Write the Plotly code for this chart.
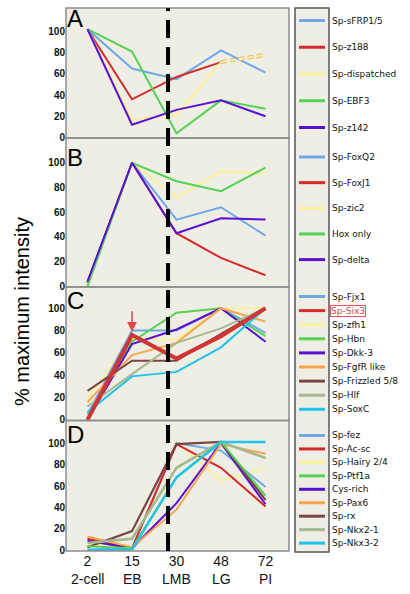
import plotly.graph_objects as go

# ---------------- data ----------------
hours = ["2", "15", "30", "48", "72"]
stages = ["2-cell", "EB", "LMB", "LG", "PI"]
y_ticks = [0, 20, 40, 60, 80, 100]

# Panel A
a_names = ["Sp-sFRP1/5", "Sp-z188", "Sp-dispatched", "Sp-EBF3", "Sp-z142"]
a_sfrp = [102, 65, 55, 82, 61]
a_z188 = [102, 36, 57, 71, None]
a_dispatched = [102, 17, 21, 71, 78]
a_ebf3 = [102, 81, 4, 35, 27]
a_z142 = [102, 12, 26, 35, 20]

# Panel B
b_names = ["Sp-FoxQ2", "Sp-FoxJ1", "Sp-zic2", "Hox only", "Sp-delta"]
b_foxq2 = [3, 100, 54, 64, 41]
b_foxj1 = [3, 100, 43, 23, 9]
b_zic2 = [2, 100, 72, 93, 91]
b_hox = [0, 100, 85, 77, 96]
b_delta = [4, 100, 43, 55, 54]

# Panel C
c_names = ["Sp-Fjx1", "Sp-Six3", "Sp-zfh1", "Sp-Hbn", "Sp-Dkk-3",
           "Sp-FgfR like", "Sp-Frizzled 5/8", "Sp-Hlf", "Sp-SoxC"]
c_fjx1 = [5, 80, 80, 100, 78]
c_six3 = [0, 76, 55, 75, 100]
c_zfh1 = [19, 73, 72, 100, 100]
c_hbn = [2, 70, 96, 100, 75]
c_dkk3 = [0, 68, 81, 100, 70]
c_fgfr = [16, 58, 69, 100, 88]
c_frizzled = [26, 53, 53, 77, 100]
c_hlf = [12, 41, 69, 82, 100]
c_soxc = [7, 39, 43, 65, 100]

# Panel D
d_names = ["Sp-fez", "Sp-Ac-sc", "Sp-Hairy 2/4", "Sp-Ptf1a", "Cys-rich",
           "Sp-Pax6", "Sp-rx", "Sp-Nkx2-1", "Sp-Nkx3-2"]
d_fez = [1, 2, 100, 93, 59]
d_acsc = [11, 2, 99, 77, 41]
d_hairy = [5, 2, 101, 65, 77]
d_ptf1a = [4, 2, 68, 101, 51]
d_cys = [9, 2, 44, 100, 43]
d_pax6 = [13, 3, 38, 99, 90]
d_rx = [3, 18, 99, 101, 47]
d_nkx21 = [7, 11, 77, 101, 86]
d_nkx32 = [0, 1, 68, 101, 101]

# ---------------- styling ----------------
BLUE = "#6fa8e8"
RED = "#d42a2a"
YELLOW = "#faf09a"
GREEN = "#55d155"
PURPLE = "#5a12d0"
ORANGE = "#f7a64d"
BROWN = "#7b4545"
GREYGREEN = "#a5b88f"
CYAN = "#1fc3ea"
BG = "#efeee5"
FONT = "Liberation Sans, Arial, sans-serif"

W, H = 410, 594
L, R, T, B = 66, 289, 8, 551  # plot area in pixels


def px(p):
    return (p - L) / (R - L)


def py(p):
    return (B - p) / (B - T)


fig = go.Figure()


def add(vals, color, yaxis, width=2.0, dash=None):
    fig.add_trace(go.Scatter(x=hours, y=vals, mode="lines",
                             line=dict(color=color, width=width, dash=dash),
                             xaxis="x", yaxis=yaxis, showlegend=False,
                             hoverinfo="skip"))


# Panel A
add(a_sfrp, BLUE, "y")
add(a_z188, RED, "y")
fig.add_trace(go.Scatter(x=hours[:4], y=a_dispatched[:4], mode="lines",
                         line=dict(color=YELLOW, width=2), xaxis="x", yaxis="y",
                         showlegend=False, hoverinfo="skip"))
fig.add_trace(go.Scatter(x=hours[3:], y=a_dispatched[3:], mode="lines",
                         line=dict(color="#e9b86a", width=4, dash="6px,3px"),
                         xaxis="x", yaxis="y", showlegend=False, hoverinfo="skip"))
fig.add_trace(go.Scatter(x=hours[3:], y=a_dispatched[3:], mode="lines",
                         line=dict(color="#fbefb0", width=2, dash="6px,3px"),
                         xaxis="x", yaxis="y", showlegend=False, hoverinfo="skip"))
add(a_ebf3, GREEN, "y")
add(a_z142, PURPLE, "y")

# Panel B
add(b_zic2, YELLOW, "y2")
add(b_foxq2, BLUE, "y2")
add(b_foxj1, RED, "y2")
add(b_hox, GREEN, "y2")
add(b_delta, PURPLE, "y2")

# Panel C
add(c_zfh1, YELLOW, "y3")
add(c_fjx1, BLUE, "y3")
add(c_hbn, GREEN, "y3")
add(c_dkk3, PURPLE, "y3")
add(c_fgfr, ORANGE, "y3")
add(c_frizzled, BROWN, "y3")
add(c_hlf, GREYGREEN, "y3")
add(c_soxc, CYAN, "y3")
add(c_six3, "#d03535", "y3", width=4)

# Panel D
add(d_hairy, YELLOW, "y4")
add(d_fez, BLUE, "y4")
add(d_acsc, RED, "y4")
add(d_cys, PURPLE, "y4")
add(d_pax6, ORANGE, "y4")
add(d_rx, BROWN, "y4", width=2.2)
add(d_ptf1a, GREEN, "y4")
add(d_nkx21, GREYGREEN, "y4", width=2.6)
add(d_nkx32, CYAN, "y4", width=2.4)

# ---------------- axes ----------------
tickfont = dict(family=FONT, size=10, color="#111")
panels = [  # (axis name, top px, bottom px, range)
    ("yaxis", 8, 138, [-0.5, 122]),
    ("yaxis2", 138, 287, [-0.5, 120]),
    ("yaxis3", 287, 420.5, [-0.5, 119]),
    ("yaxis4", 420.5, 551, [-0.5, 121]),
]
for name, top, bot, rng in panels:
    fig.layout[name] = dict(domain=[py(bot), py(top)], range=rng, anchor="x",
                            tickvals=y_ticks, ticktext=[str(v) for v in y_ticks],
                            tickfont=dict(tickfont, weight="bold"),
                            showgrid=False, zeroline=False, showline=False,
                            ticks="", fixedrange=True)

fig.update_layout(
    xaxis=dict(type="category", categoryorder="array", categoryarray=hours,
               range=[-0.483, 4.528], anchor="y4", domain=[0, 1],
               tickvals=hours, ticktext=hours,
               tickfont=dict(family=FONT, size=14, color="#111"),
               showgrid=False, zeroline=False, showline=False, ticks="",
               fixedrange=True),
)

shapes = []
# panel frames
for i, (name, top, bot, rng) in enumerate(panels):
    ref = "y" if i == 0 else f"y{i + 1}"
    shapes.append(dict(type="rect", xref="paper", yref=f"{ref} domain",
                       x0=0, x1=1, y0=0, y1=1,
                       line=dict(color="#8c8c8c", width=1.5), layer="above"))
# dashed divider near LMB (category index space)
shapes.append(dict(type="line", xref="x", yref="paper", x0=1.81, x1=1.81,
                   y0=0, y1=1, line=dict(color="black", width=4, dash="18px,9px"),
                   layer="above"))

# legend panel
shapes.append(dict(type="rect", xref="paper", yref="paper",
                   x0=px(295), x1=px(329), y0=py(552), y1=py(8),
                   fillcolor=BG, line=dict(color="#555", width=1.5), layer="below"))

annotations = []
# stage names under the hour ticks (category index positions)
for i, s in enumerate(stages):
    annotations.append(dict(xref="x", yref="paper", x=i, y=py(579),
                            xanchor="center", yanchor="middle", text=s,
                            showarrow=False,
                            font=dict(family=FONT, size=14, color="#111")))

legend_groups = [
    (a_names, [BLUE, RED, YELLOW, GREEN, PURPLE], 20.5, 26.75),
    (b_names, [BLUE, RED, YELLOW, GREEN, PURPLE], 157, 25.65),
    (c_names, [BLUE, RED, YELLOW, GREEN, PURPLE, ORANGE, BROWN, GREYGREEN, CYAN], 296.5, 14.1),
    (d_names, [BLUE, RED, YELLOW, GREEN, PURPLE, ORANGE, BROWN, GREYGREEN, CYAN], 435.5, 13.45),
]
for names, colors, start, step in legend_groups:
    for k, (nm, col) in enumerate(zip(names, colors)):
        yy = start + k * step
        shapes.append(dict(type="line", xref="paper", yref="paper",
                           x0=px(299), x1=px(325), y0=py(yy), y1=py(yy),
                           line=dict(color=col, width=3)))
        ann = dict(xref="paper", yref="paper", x=px(330), y=py(yy),
                   xanchor="left", yanchor="middle", text=nm, showarrow=False,
                   font=dict(family="DejaVu Sans, sans-serif", size=9, color="#111"))
        if nm == "Sp-Six3":
            ann.update(bordercolor="#e05a5a", borderwidth=1, borderpad=0,
                       font=dict(family="DejaVu Sans, sans-serif", size=9, color="#d04848"))
        annotations.append(ann)

# panel letters
for letter, cy in zip(["A", "B", "C", "D"], [18.5, 157.5, 300.5, 434.5]):
    annotations.append(dict(xref="paper", yref="paper", x=px(65), y=py(cy),
                            xanchor="left", yanchor="middle", text=letter,
                            showarrow=False,
                            font=dict(family=FONT, size=24, color="black")))

# y title
annotations.append(dict(xref="paper", yref="paper", x=px(22), y=py(312),
                        xanchor="center", yanchor="middle", textangle=-90,
                        text="% maximum intensity", showarrow=False,
                        font=dict(family=FONT, size=20, color="black")))

# red arrow to Six3 at EB (category index 1)
annotations.append(dict(xref="x", yref="y3", x=1, y=c_six3[1] + 3,
                        ax=0, ay=-22, text="", showarrow=True, arrowhead=2,
                        arrowsize=1.3, arrowwidth=1.5, arrowcolor="#e04848"))

fig.update_layout(
    width=W, height=H,
    margin=dict(l=L, r=W - R, t=T, b=H - B),
    paper_bgcolor="white", plot_bgcolor=BG,
    shapes=shapes, annotations=annotations, showlegend=False,
    hovermode=False,
)

fig.write_html("out.html", config={"displayModeBar": False},
               post_script="document.body.style.margin='0';document.body.style.padding='0';")
